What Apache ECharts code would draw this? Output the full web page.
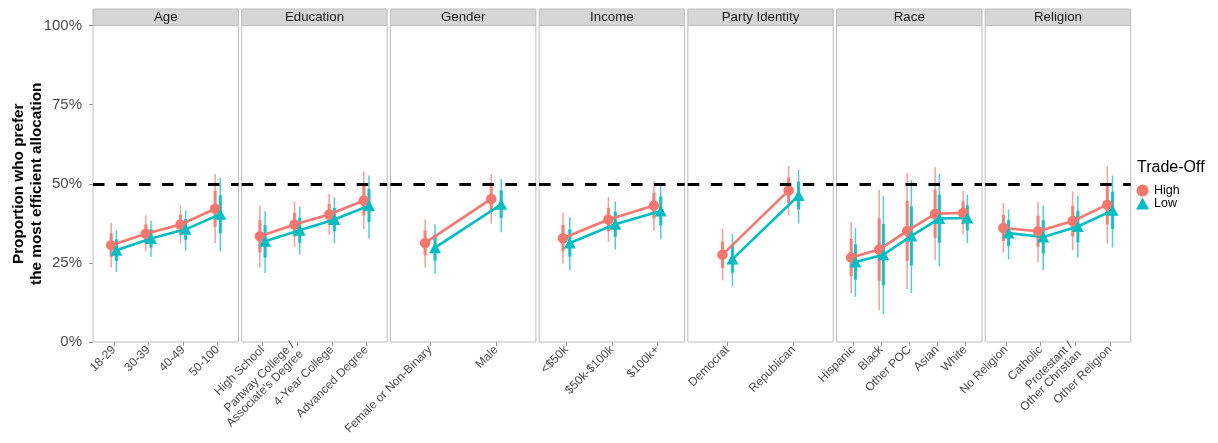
<!DOCTYPE html>
<html><head><meta charset="utf-8">
<script src="https://cdn.jsdelivr.net/npm/echarts@6/dist/echarts.min.js"></script>
<style>html,body{margin:0;padding:0;background:#fff}#c{width:1218px;height:443px}</style>
</head><body><div id="c"></div>
<script>
// ---------- DATA ----------
const facets = ['Age', 'Education', 'Gender', 'Income', 'Party Identity', 'Race', 'Religion'];
const categories = [
  ['18-29', '30-39', '40-49', '50-100'],
  ['High School', 'Partway College /\nAssociate\'s Degree', '4-Year College', 'Advanced Degree'],
  ['Female or Non-Binary', 'Male'],
  ['<$50k', '$50k-$100k', '$100k+'],
  ['Democrat', 'Republican'],
  ['Hispanic', 'Black', 'Other POC', 'Asian', 'White'],
  ['No Religion', 'Catholic', 'Protestant /\nOther Christian', 'Other Religion']
];
const groups = ['High', 'Low'];
const yTicks = [0, 25, 50, 75, 100];
const refLine = 50;

// High trade-off: estimate, 95% interval (thin), inner interval (thick)
const highMean = [[30.6,34.2,37.1,42.1],[33.4,37.1,40.3,44.7],[31.3,45.2],[32.8,38.7,43.1],[27.6,47.9],[26.7,29.2,35.1,40.5,40.8],[36.0,35.0,38.2,43.4]];
const highThinLo = [[23.5,28.7,31.1,31.3],[23.5,30.0,33.8,35.7],[23.5,37.4],[24.8,31.6,35.1],[19.5,40.0],[15.3,10.1,16.7,25.8,34.0],[28.2,25.3,29.0,31.1]];
const highThinHi = [[37.7,40.0,43.1,53.1],[43.1,44.4,46.8,53.9],[38.6,53.1],[40.8,45.8,50.8],[35.8,55.7],[37.9,48.1,53.4,55.2,47.9],[43.9,44.2,47.6,55.5]];
const highThickLo = [[26.9,31.3,34.0,36.4],[28.3,33.4,37.0,40.0],[27.4,41.1],[28.6,35.0,39.0],[23.4,43.8],[20.8,19.3,25.6,32.9,37.2],[31.9,30.1,33.4,37.1]];
const highThickHi = [[34.3,37.1,40.2,47.8],[38.5,40.8,43.6,49.4],[35.2,49.3],[37.0,42.4,47.2],[31.8,52.0],[32.6,39.1,44.6,48.1,44.4],[40.1,39.9,43.0,49.7]];

// Low trade-off
const lowMean = [[29.0,32.7,35.6,40.4],[31.8,35.3,38.7,43.1],[29.8,43.5],[31.3,37.2,41.4],[26.2,46.3],[25.3,27.6,33.5,39.0,39.2],[34.4,33.2,36.5,41.6]];
const lowThinLo = [[22.1,26.9,28.8,28.7],[21.8,27.6,31.3,32.7],[21.6,34.7],[22.7,29.2,32.4],[17.6,37.4],[14.3,8.8,15.5,23.9,31.3],[26.1,22.7,26.7,29.8]];
const lowThinHi = [[35.3,38.2,41.6,51.9],[41.3,42.8,45.7,52.6],[37.2,51.6],[39.4,44.4,50.0],[34.2,54.4],[36.0,46.1,51.2,53.1,46.6],[41.9,43.1,46.1,52.6]];
const lowThickLo = [[25.6,29.8,32.3,34.4],[26.7,31.3,35.0,37.9],[25.7,39.1],[27.0,33.2,36.8],[21.9,41.9],[19.7,17.9,24.2,31.4,35.2],[30.3,27.9,31.5,35.7]];
const lowThickHi = [[32.4,35.6,38.9,46.4],[36.9,39.3,42.4,48.3],[33.9,47.9],[35.6,41.2,46.0],[30.5,50.7],[30.9,37.3,42.8,46.6,43.2],[38.5,38.5,41.5,47.5]];

// ---------- STYLE / LAYOUT ----------
const FONT = '"Liberation Sans", Arial, Helvetica, sans-serif';
const COLORS = {High: '#F8766D', Low: '#00BFC4'};
const L0 = 93, PW = 145.5, PITCH = 148.7, TOP = 25.5, PH = 316.5;
const STRIP_TOP = 9, STRIP_H = 16.5;
const DODGE = 0.075;

const grids = [], xAxes = [], yAxes = [], series = [], graphics = [];

function ciSeries(name, k, xs, thinLo, thinHi, thickLo, thickHi, color) {
  return {
    type: 'custom', name: name + '-ci', xAxisIndex: k, yAxisIndex: k, silent: true, z: 3,
    data: xs.map((x, i) => [x, thinLo[i], thinHi[i], thickLo[i], thickHi[i]]),
    encode: {x: 0, y: [1, 2, 3, 4]},
    renderItem: function (params, api) {
      const x = api.value(0);
      const a = api.coord([x, api.value(1)]), b = api.coord([x, api.value(2)]);
      const c = api.coord([x, api.value(3)]), d = api.coord([x, api.value(4)]);
      return {type: 'group', children: [
        {type: 'line', shape: {x1: a[0], y1: a[1], x2: b[0], y2: b[1]}, style: {stroke: color, lineWidth: 1.5, opacity: 0.7}},
        {type: 'line', shape: {x1: c[0], y1: c[1], x2: d[0], y2: d[1]}, style: {stroke: color, lineWidth: 3.2, opacity: 0.85}}
      ]};
    }
  };
}

facets.forEach((f, k) => {
  const cats = categories[k];
  const n = cats.length;
  const left = L0 + k * PITCH;
  const ticks = cats.map((c, i) => i + 1);
  grids.push({left: left, top: TOP, width: PW, height: PH, show: true, borderColor: '#bdbdbd', borderWidth: 1,
    backgroundColor: '#fff', containLabel: false, outerBoundsMode: 'none'});
  xAxes.push({
    type: 'value', gridIndex: k, min: 0.4, max: n + 0.6,
    splitLine: {show: false}, axisLine: {show: false},
    axisTick: {show: true, customValues: ticks, length: 4, lineStyle: {color: '#9a9a9a'}},
    axisLabel: {show: true, customValues: ticks, formatter: v => cats[Math.round(v) - 1] || '',
      rotate: 45, fontSize: 12, color: '#4d4d4d', margin: 6, fontFamily: FONT, hideOverlap: false, lineHeight: 12}
  });
  const y = {
    type: 'value', gridIndex: k, min: yTicks[0], max: yTicks[yTicks.length - 1], interval: 25,
    splitLine: {show: false}, axisLine: {show: false},
    axisTick: {show: k === 0, length: 4, lineStyle: {color: '#9a9a9a'}},
    axisLabel: {show: k === 0, formatter: '{value}%', fontSize: 15, color: '#4d4d4d', margin: 11, fontFamily: FONT}
  };
  if (k === 0) {
    Object.assign(y, {name: 'Proportion who prefer\nthe most efficient allocation', nameLocation: 'middle', nameGap: 47,
      nameMoveOverlap: false,
      nameTextStyle: {fontWeight: 'bold', fontSize: 15.3, color: '#000', fontFamily: FONT, lineHeight: 18}});
  }
  yAxes.push(y);

  const xsH = cats.map((c, i) => i + 1 - DODGE);
  const xsL = cats.map((c, i) => i + 1 + DODGE);
  series.push(ciSeries('High', k, xsH, highThinLo[k], highThinHi[k], highThickLo[k], highThickHi[k], COLORS.High));
  series.push(ciSeries('Low', k, xsL, lowThinLo[k], lowThinHi[k], lowThickLo[k], lowThickHi[k], COLORS.Low));
  series.push({type: 'line', name: 'High', xAxisIndex: k, yAxisIndex: k, z: 4,
    data: xsH.map((x, i) => [x, highMean[k][i]]), symbol: 'circle', symbolSize: 10.5, showAllSymbol: true,
    lineStyle: {width: 2.6, color: COLORS.High}, itemStyle: {color: COLORS.High, opacity: 1}});
  series.push({type: 'line', name: 'Low', xAxisIndex: k, yAxisIndex: k, z: 4,
    data: xsL.map((x, i) => [x, lowMean[k][i]]), symbol: 'triangle', symbolSize: [12, 11], showAllSymbol: true,
    lineStyle: {width: 2.6, color: COLORS.Low}, itemStyle: {color: COLORS.Low, opacity: 1}});
  series.push({type: 'line', name: 'ref', xAxisIndex: k, yAxisIndex: k, z: 6, data: [], silent: true,
    markLine: {silent: true, symbol: 'none', label: {show: false}, animation: false,
      lineStyle: {color: '#000', width: 3, type: [11.5, 11.5]}, data: [{yAxis: refLine}]}});

  graphics.push({type: 'rect', shape: {x: left, y: STRIP_TOP, width: PW, height: STRIP_H},
    style: {fill: '#d6d6d6', stroke: '#bdbdbd', lineWidth: 1}, silent: true});
  graphics.push({type: 'text', x: left + PW / 2, y: STRIP_TOP + STRIP_H / 2 + 0.5, silent: true,
    style: {text: f, align: 'center', verticalAlign: 'middle', fontSize: 13.3, fontFamily: FONT, fill: '#1a1a1a'}});
});

graphics.push({type: 'text', x: 1137, y: 168, silent: true,
  style: {text: 'Trade-Off', align: 'left', verticalAlign: 'middle', fontSize: 16, fontFamily: FONT, fill: '#000'}});

const chart = echarts.init(document.getElementById('c'), null, {renderer: 'canvas'});
chart.setOption({
  animation: false,
  backgroundColor: '#fff',
  grid: grids, xAxis: xAxes, yAxis: yAxes, series: series, graphic: graphics,
  legend: {show: true, orient: 'vertical', left: 1136, top: 184, itemWidth: 13, itemHeight: 12, itemGap: 0,
    padding: 0, selectedMode: false,
    textStyle: {fontSize: 12.5, fontFamily: FONT, color: '#000', lineHeight: 12},
    data: [{name: 'High', icon: 'circle'}, {name: 'Low', icon: 'triangle'}]}
});
</script></body></html>
